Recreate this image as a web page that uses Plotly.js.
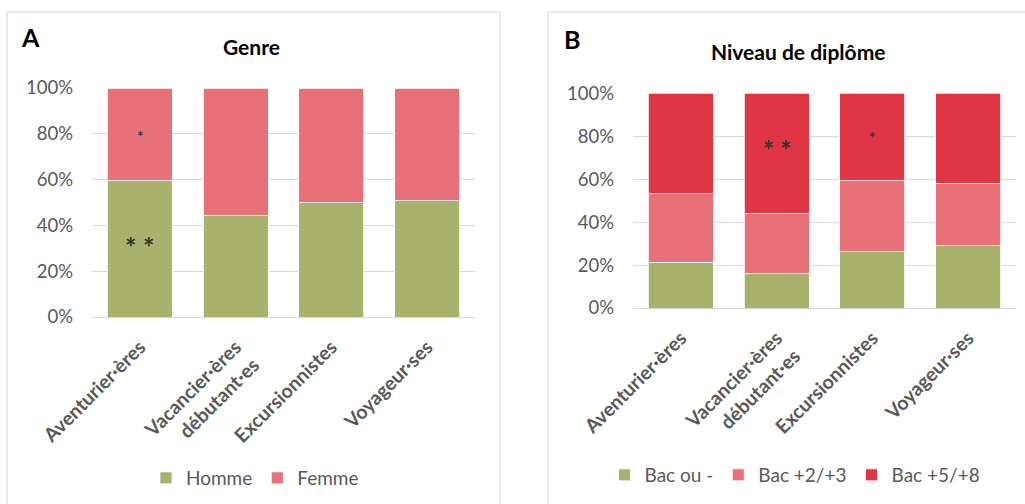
<!DOCTYPE html>
<html>
<head>
<meta charset="utf-8">
<script src="https://cdn.plot.ly/plotly-3.0.1.min.js"></script>
<style>html,body{margin:0;padding:0;background:#fff;}#chart{width:1025px;height:504px;}</style>
</head>
<body>
<div id="chart"></div>
<script>
// Categories
const categories = ["Aventurier·ères", "Vacancier·ères débutant·es", "Excursionnistes", "Voyageur·ses"];
const tickLabels = ["<b>Aventurier·ères</b>", "<b>Vacancier·ères<br>débutant·es</b>", "<b>Excursionnistes</b>", "<b>Voyageur·ses</b>"];

// Panel A: Genre (%)
const homme = [59.5, 44.5, 49.8, 50.7];
const femme = [40.5, 55.5, 50.2, 49.3];

// Panel B: Niveau de diplôme (%)
const bacOuMoins = [21.3, 16.2, 26.2, 28.9];
const bac23 = [31.8, 27.9, 33.0, 29.3];
const bac58 = [46.9, 55.9, 40.8, 41.8];

const green = "#A8B26C", pink = "#E87078", red = "#E03545";
const grey = "#595959", gridc = "#D9D9D9";
const FONT = "Lato, 'Open Sans', sans-serif";

function bar(name, y, color, xa, ya, leg) {
  return {
    type: "bar", name: name, x: categories, y: y, xaxis: xa, yaxis: ya,
    marker: {color: color, line: {color: "#ffffff", width: 0.8}},
    legend: leg, hoverinfo: "skip"
  };
}

const data = [
  bar("Homme", homme, green, "x", "y", "legend"),
  bar("Femme", femme, pink, "x", "y", "legend"),
  bar("Bac ou -", bacOuMoins, green, "x2", "y2", "legend2"),
  bar("Bac +2/+3", bac23, pink, "x2", "y2", "legend2"),
  bar("Bac +5/+8", bac58, red, "x2", "y2", "legend2")
];

const W = 1025, H = 504;
const px = v => v / W, py = v => (H - v) / H;

const xCommon = {
  type: "category", tickmode: "array", tickvals: categories, ticktext: tickLabels,
  tickangle: -45, tickfont: {family: FONT, size: 19.5, color: grey},
  showgrid: false, zeroline: false, showline: false, ticks: "", ticklabelstandoff: 14
};
const yCommon = {
  range: [0, 100], dtick: 20, ticksuffix: "%", tickfont: {family: FONT, size: 18.5, color: grey},
  showgrid: true, gridcolor: gridc, gridwidth: 1, zeroline: true, zerolinecolor: gridc, zerolinewidth: 1,
  showline: false, ticks: "", ticklabelstandoff: 18, fixedrange: true
};

const layout = {
  width: W, height: H, margin: {l: 0, r: 0, t: 0, b: 0},
  paper_bgcolor: "#fff", plot_bgcolor: "#fff",
  barmode: "stack", bargap: 0.32,
  font: {family: FONT, color: grey},
  xaxis: Object.assign({}, xCommon, {domain: [px(92), px(475)], anchor: "y"}),
  yaxis: Object.assign({}, yCommon, {domain: [py(317), py(88)], anchor: "x"}),
  xaxis2: Object.assign({}, xCommon, {domain: [px(633), px(1016)], anchor: "y2"}),
  yaxis2: Object.assign({}, yCommon, {domain: [py(308), py(93.3)], anchor: "x2"}),
  legend: {orientation: "h", x: px(255), xanchor: "center", y: py(478), yanchor: "middle",
           font: {family: FONT, size: 19, color: grey}, traceorder: "normal", itemclick: false},
  legend2: {orientation: "h", x: px(795), xanchor: "center", y: py(475), yanchor: "middle",
            font: {family: FONT, size: 19, color: grey}, traceorder: "normal", itemclick: false},
  shapes: [
    {type: "rect", xref: "paper", yref: "paper", x0: px(7), x1: px(500), y0: -0.05, y1: py(12),
     line: {color: gridc, width: 1.2}, fillcolor: "rgba(0,0,0,0)", layer: "below"},
    {type: "rect", xref: "paper", yref: "paper", x0: px(548), x1: 1.05, y0: -0.05, y1: py(12),
     line: {color: gridc, width: 1.2}, fillcolor: "rgba(0,0,0,0)", layer: "below"}
  ],
  annotations: [
    {text: "<b>A</b>", xref: "paper", yref: "paper", x: px(30), y: py(37), xanchor: "center", yanchor: "middle",
     showarrow: false, font: {family: FONT, size: 25, color: "#000"}},
    {text: "<b>B</b>", xref: "paper", yref: "paper", x: px(572), y: py(39), xanchor: "center", yanchor: "middle",
     showarrow: false, font: {family: FONT, size: 25, color: "#000"}},
    {text: "<b>Genre</b>", xref: "paper", yref: "paper", x: px(251), y: py(46), xanchor: "center", yanchor: "middle",
     showarrow: false, font: {family: FONT, size: 21, color: "#000"}},
    {text: "<b>Niveau de diplôme</b>", xref: "paper", yref: "paper", x: px(798), y: py(52), xanchor: "center", yanchor: "middle",
     showarrow: false, font: {family: FONT, size: 21, color: "#000"}},
    // significance markers
    {text: "<b>* *</b>", xref: "x", yref: "y", x: categories[0], y: 34, yshift: -7, showarrow: false,
     font: {family: FONT, size: 27, color: "#333"}},
    {text: "<b>*</b>", xref: "x", yref: "y", x: categories[0], y: 80.8, yshift: -4, showarrow: false,
     font: {family: FONT, size: 15, color: "#333"}},
    {text: "<b>* *</b>", xref: "x2", yref: "y2", x: categories[1], y: 76.9, yshift: -7, showarrow: false,
     font: {family: FONT, size: 26, color: "#333"}},
    {text: "<b>*</b>", xref: "x2", yref: "y2", x: categories[2], y: 81.6, yshift: -4, showarrow: false,
     font: {family: FONT, size: 15, color: "#333"}}
  ]
};

Plotly.newPlot("chart", data, layout, {staticPlot: true, displayModeBar: false});
</script>
</body>
</html>
